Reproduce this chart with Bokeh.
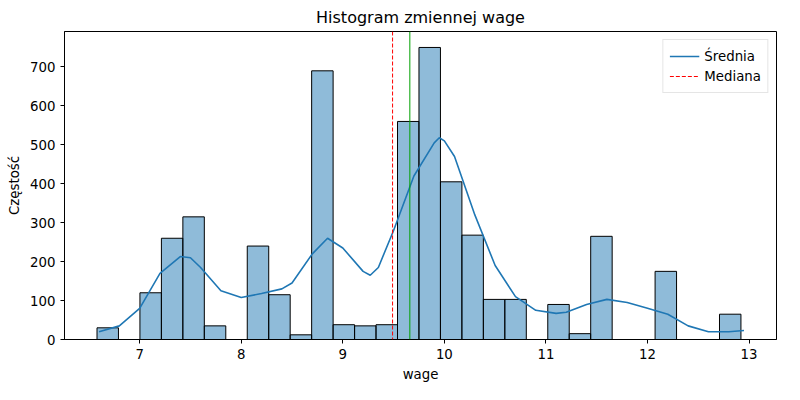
from bokeh.models import Range1d, Span, Legend, LegendItem
from bokeh.plotting import figure
from bokeh.embed import file_html
from bokeh.resources import INLINE

BIN_START = 6.58
BIN_END = 12.92
COUNTS = [30, 0, 120, 260, 315, 35, 0, 240, 115, 12, 690, 38, 35, 38, 560,
          750, 405, 268, 103, 103, 0, 90, 15, 265, 0, 0, 175, 0, 0, 65]
KDE_X = [6.6, 6.8, 7.0, 7.2, 7.4, 7.5, 7.6, 7.8, 8.0, 8.2, 8.4, 8.5, 8.7, 8.85,
         9.0, 9.2, 9.27, 9.35, 9.5, 9.7, 9.9, 9.95, 10.0, 10.1, 10.3, 10.5,
         10.7, 10.9, 11.1, 11.2, 11.4, 11.6, 11.8, 12.0, 12.2, 12.4, 12.6,
         12.8, 12.95]
KDE_Y = [20, 35, 80, 170, 213, 210, 185, 125, 108, 118, 130, 145, 220, 260,
         235, 175, 165, 185, 280, 420, 505, 518, 510, 470, 320, 190, 110, 75,
         67, 70, 90, 103, 95, 80, 65, 35, 20, 20, 23]
MEAN = 9.66
MEDIAN = 9.49

FONT = "DejaVu Sans"

p = figure(width=784, height=384, output_backend="svg", toolbar_location=None,
           tools="", title="Histogram zmiennej wage",
           x_range=Range1d(6.26, 13.27), y_range=Range1d(0, 791),
           min_border_left=64, min_border_right=8, min_border_bottom=42,
           min_border_top=11)
p.title.align = "center"
p.title.text_font = FONT
p.title.text_font_size = "12pt"
p.title.text_font_style = "normal"
p.title.text_color = "black"

w = (BIN_END - BIN_START) / len(COUNTS)
lefts = [BIN_START + i * w for i in range(len(COUNTS))]
rights = [l + w for l in lefts]
idx = [i for i, c in enumerate(COUNTS) if c > 0]
p.quad(left=[lefts[i] for i in idx], right=[rights[i] for i in idx],
       bottom=0, top=[COUNTS[i] for i in idx],
       fill_color="#1f77b4", fill_alpha=0.5, line_color="black", line_width=1)

kde = p.line(KDE_X, KDE_Y, line_color="#1f77b4", line_width=1.6)
med = Span(location=MEDIAN, dimension="height", line_color="red",
           line_dash="4 2", line_width=1)
mean = Span(location=MEAN, dimension="height", line_color="#00a000", line_width=1)
p.add_layout(med)
p.add_layout(mean)
med_proxy = p.line([MEDIAN, MEDIAN], [-10, -10], line_color="red",
                   line_dash="4 2", line_width=1)

legend = Legend(items=[LegendItem(label="Średnia", renderers=[kde]),
                       LegendItem(label="Mediana", renderers=[med_proxy])],
                location="top_right", label_text_font=FONT,
                label_text_font_size="10pt", label_text_color="black",
                border_line_color="#cccccc",
                glyph_width=30, spacing=0, padding=6, margin=8)
p.add_layout(legend)

p.grid.visible = False
p.xaxis.axis_label = "wage"
p.yaxis.axis_label = "Częstość"
for ax in (p.xaxis, p.yaxis):
    ax.axis_label_text_font = FONT
    ax.axis_label_text_font_size = "10pt"
    ax.axis_label_text_font_style = "normal"
    ax.axis_label_text_color = "black"
    ax.major_label_text_font = FONT
    ax.major_label_text_font_size = "10pt"
    ax.major_label_text_color = "black"
    ax.axis_line_color = "black"
    ax.major_tick_line_color = "black"
    ax.minor_tick_line_color = None
    ax.major_tick_in = 0
    ax.major_tick_out = 4
p.xaxis.ticker = [7, 8, 9, 10, 11, 12, 13]
p.yaxis.ticker = [0, 100, 200, 300, 400, 500, 600, 700]
p.outline_line_color = "black"

open("out.html", "w").write(file_html(p, INLINE))
